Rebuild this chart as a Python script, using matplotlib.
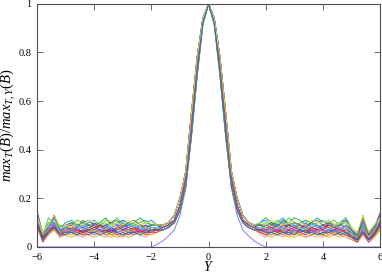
import matplotlib
matplotlib.use("Agg")
import matplotlib.pyplot as plt
import numpy as np

plt.rcParams["font.family"] = "Liberation Serif"
plt.rcParams["mathtext.fontset"] = "custom"
plt.rcParams["mathtext.it"] = "Liberation Serif:italic"
plt.rcParams["mathtext.rm"] = "Liberation Serif"

# rapidity grid, -6 .. 6 in steps of 0.2
rapidity = [-6.0, -5.8, -5.6, -5.4, -5.2, -5.0, -4.8, -4.6, -4.4, -4.2, -4.0,
            -3.8, -3.6, -3.4, -3.2, -3.0, -2.8, -2.6, -2.4, -2.2, -2.0, -1.8,
            -1.6, -1.4, -1.2, -1.0, -0.8, -0.6, -0.4, -0.2, 0.0, 0.2, 0.4,
            0.6, 0.8, 1.0, 1.2, 1.4, 1.6, 1.8, 2.0, 2.2, 2.4, 2.6, 2.8, 3.0,
            3.2, 3.4, 3.6, 3.8, 4.0, 4.2, 4.4, 4.6, 4.8, 5.0, 5.2, 5.4, 5.6,
            5.8, 6.0]

# normalised max_T(B) per run, in percent
run_01 = [12, 4, 7, 9, 6, 7, 8, 6, 7, 9, 8, 7, 6, 8, 9, 7, 6, 7, 8, 9, 7, 8,
          8, 9, 11, 17, 28, 50, 74, 93, 100, 93, 74, 50, 28, 17, 11, 9, 8,
          8, 7, 9, 8, 6, 7, 8, 9, 7, 6, 7, 8, 9, 8, 6, 7, 5, 3, 8, 4, 6, 11]
run_02 = [9, 3, 6, 8, 5, 5, 6, 5, 6, 7, 5, 6, 7, 5, 6, 5, 6, 5, 7, 6, 6, 7,
          7, 8, 10, 15, 25, 46, 71, 92, 100, 92, 71, 46, 25, 15, 10, 8, 7,
          7, 6, 5, 6, 7, 5, 6, 5, 6, 7, 6, 5, 6, 5, 6, 5, 4, 2, 6, 3, 5, 8]
run_03 = [15, 5, 8, 12, 7, 8, 10, 9, 8, 10, 11, 9, 8, 10, 9, 11, 10, 8, 9, 10, 11, 9,
          9, 10, 13, 20, 31, 55, 78, 94, 100, 94, 78, 55, 31, 20, 13, 10, 9,
          10, 11, 9, 10, 12, 9, 8, 10, 11, 9, 10, 11, 9, 8, 10, 11, 7, 5, 10, 6, 8, 13]
run_04 = [10, 3, 6, 10, 6, 6, 7, 8, 6, 5, 7, 8, 7, 6, 7, 8, 7, 6, 6, 8, 7, 7,
          8, 9, 11, 17, 28, 50, 74, 93, 100, 93, 74, 50, 28, 17, 11, 9, 8,
          7, 8, 7, 6, 8, 7, 6, 7, 8, 7, 6, 7, 6, 7, 8, 6, 5, 3, 7, 3, 5, 10]
run_05 = [13, 5, 8, 8, 7, 9, 7, 8, 10, 8, 7, 9, 10, 8, 7, 8, 9, 10, 8, 7, 9, 9,
          9, 10, 13, 20, 31, 55, 78, 94, 100, 94, 78, 55, 31, 20, 13, 10, 9,
          9, 8, 10, 9, 8, 10, 9, 7, 8, 10, 9, 8, 7, 9, 10, 8, 6, 4, 9, 5, 7, 12]
run_06 = [8, 2, 5, 7, 4, 5, 4, 5, 6, 5, 4, 5, 6, 5, 4, 5, 4, 5, 6, 5, 5, 6,
          7, 8, 10, 15, 25, 46, 71, 92, 100, 92, 71, 46, 25, 15, 10, 8, 7,
          6, 5, 4, 5, 6, 5, 4, 5, 4, 5, 6, 5, 4, 5, 4, 5, 3, 2, 5, 2, 4, 7]
run_07 = [11, 4, 9, 11, 8, 7, 9, 10, 9, 7, 8, 10, 9, 11, 8, 9, 10, 9, 11, 8, 8, 8,
          8, 9, 11, 17, 28, 50, 74, 93, 100, 93, 74, 50, 28, 17, 11, 9, 8,
          8, 9, 11, 10, 8, 9, 10, 8, 9, 11, 10, 9, 8, 10, 9, 8, 6, 4, 8, 5, 7, 9]
run_08 = [14, 6, 7, 13, 7, 6, 8, 7, 6, 8, 9, 6, 7, 8, 6, 7, 8, 7, 6, 7, 6, 8,
          9, 10, 13, 20, 31, 55, 78, 94, 100, 94, 78, 55, 31, 20, 13, 10, 9,
          7, 6, 8, 7, 9, 8, 7, 6, 7, 8, 7, 9, 8, 6, 7, 9, 7, 5, 11, 6, 8, 14]
run_09 = [10, 4, 6, 9, 5, 6, 5, 7, 8, 6, 5, 6, 8, 7, 5, 6, 7, 5, 6, 7, 6, 7,
          7, 8, 10, 15, 25, 46, 71, 92, 100, 92, 71, 46, 25, 15, 10, 8, 7,
          6, 7, 6, 5, 7, 6, 8, 6, 5, 6, 8, 7, 5, 6, 7, 6, 4, 3, 7, 3, 6, 9]
run_10 = [12, 5, 10, 10, 8, 10, 11, 9, 10, 11, 9, 10, 12, 9, 10, 11, 9, 10, 12, 10, 9, 9,
          8, 9, 11, 17, 28, 50, 74, 93, 100, 93, 74, 50, 28, 17, 11, 9, 8,
          10, 12, 10, 9, 11, 10, 12, 11, 9, 10, 12, 10, 11, 9, 10, 12, 8, 6, 9, 6, 9, 12]
run_11 = [9, 3, 7, 7, 5, 7, 6, 6, 5, 7, 6, 7, 5, 6, 8, 6, 5, 8, 7, 5, 7, 7,
          7, 8, 10, 15, 25, 46, 71, 92, 100, 92, 71, 46, 25, 15, 10, 8, 7,
          6, 5, 7, 6, 5, 7, 5, 6, 7, 5, 6, 5, 7, 6, 5, 6, 4, 2, 6, 4, 5, 9]
run_12 = [13, 4, 8, 10, 7, 8, 7, 9, 8, 7, 10, 8, 9, 7, 8, 10, 8, 9, 7, 9, 8, 8,
          9, 10, 13, 20, 31, 55, 78, 94, 100, 94, 78, 55, 31, 20, 13, 10, 9,
          9, 8, 7, 9, 10, 8, 9, 7, 10, 8, 9, 7, 10, 9, 8, 7, 6, 4, 8, 4, 7, 11]
run_13 = [11, 3, 5, 8, 4, 6, 7, 5, 4, 6, 7, 5, 4, 6, 5, 4, 6, 7, 5, 4, 6, 6,
          8, 9, 11, 17, 28, 50, 74, 93, 100, 93, 74, 50, 28, 17, 11, 9, 8,
          5, 4, 6, 5, 4, 6, 7, 5, 4, 5, 6, 4, 5, 7, 5, 4, 3, 2, 5, 2, 4, 8]
run_14 = [10, 5, 12, 9, 9, 8, 9, 11, 10, 9, 8, 9, 11, 10, 12, 9, 8, 9, 10, 11, 9, 9,
          9, 10, 13, 20, 31, 55, 78, 94, 100, 94, 78, 55, 31, 20, 13, 10, 9,
          9, 10, 9, 11, 9, 12, 10, 9, 11, 10, 8, 9, 10, 11, 9, 10, 7, 5, 12, 5, 8, 11]
run_15 = [12, 4, 7, 9, 6, 7, 6, 7, 9, 8, 6, 7, 8, 7, 6, 7, 9, 8, 7, 6, 8, 8,
          7, 8, 10, 15, 25, 46, 71, 92, 100, 92, 71, 46, 25, 15, 10, 8, 7,
          8, 7, 6, 7, 8, 6, 7, 9, 8, 7, 6, 8, 7, 6, 8, 7, 5, 3, 7, 4, 6, 10]
run_16 = [9, 4, 6, 8, 6, 8, 9, 7, 6, 8, 7, 9, 8, 6, 7, 9, 8, 6, 9, 8, 7, 7,
          8, 9, 11, 17, 28, 50, 74, 93, 100, 93, 74, 50, 28, 17, 11, 9, 8,
          7, 9, 8, 7, 9, 8, 6, 8, 9, 7, 8, 9, 8, 7, 9, 8, 5, 4, 9, 5, 7, 10]
run_18 = [11, 5, 8, 10, 7, 8, 6, 8, 9, 7, 8, 6, 9, 8, 7, 8, 6, 8, 9, 7, 8, 8,
          8, 9, 11, 17, 28, 50, 74, 93, 100, 93, 74, 50, 28, 17, 11, 9, 8,
          8, 7, 8, 10, 7, 8, 9, 7, 8, 6, 9, 8, 7, 8, 6, 9, 6, 3, 9, 4, 6, 12]
run_19 = [8, 3, 6, 7, 5, 6, 5, 6, 5, 6, 7, 6, 5, 4, 6, 5, 6, 7, 5, 6, 5, 6,
          7, 8, 10, 15, 25, 46, 71, 92, 100, 92, 71, 46, 25, 15, 10, 8, 7,
          6, 6, 5, 6, 5, 4, 6, 5, 6, 5, 4, 6, 5, 6, 5, 6, 4, 2, 5, 3, 4, 7]
run_20 = [14, 4, 9, 13, 8, 9, 10, 8, 11, 9, 10, 8, 9, 10, 11, 8, 10, 11, 9, 8, 9, 9,
          9, 10, 13, 20, 31, 55, 78, 94, 100, 94, 78, 55, 31, 20, 13, 10, 9,
          9, 9, 10, 8, 11, 9, 10, 9, 8, 10, 11, 9, 10, 8, 9, 11, 7, 4, 13, 5, 8, 13]
run_21 = [10, 4, 7, 8, 6, 7, 8, 7, 6, 7, 8, 9, 7, 6, 8, 7, 7, 8, 6, 7, 7, 7,
          8, 9, 11, 17, 28, 50, 74, 93, 100, 93, 74, 50, 28, 17, 11, 9, 8,
          7, 7, 8, 6, 7, 9, 8, 7, 6, 8, 7, 7, 9, 8, 7, 6, 5, 3, 8, 3, 6, 10]
run_22 = [12, 5, 7, 11, 6, 7, 7, 9, 7, 8, 6, 8, 7, 9, 8, 6, 7, 9, 8, 8, 7, 8,
          7, 8, 10, 15, 25, 46, 71, 92, 100, 92, 71, 46, 25, 15, 10, 8, 7,
          8, 8, 7, 8, 7, 8, 6, 8, 7, 9, 8, 6, 7, 9, 8, 7, 5, 4, 8, 4, 7, 11]
run_23 = [9, 2, 6, 9, 5, 5, 7, 6, 5, 5, 6, 7, 6, 7, 5, 6, 5, 6, 7, 6, 6, 6,
          8, 9, 11, 17, 28, 50, 74, 93, 100, 93, 74, 50, 28, 17, 11, 9, 8,
          6, 5, 6, 7, 6, 5, 7, 6, 5, 7, 5, 6, 7, 5, 6, 5, 4, 2, 6, 2, 5, 9]
run_24 = [13, 6, 9, 13, 8, 9, 8, 10, 9, 11, 10, 11, 10, 9, 10, 9, 11, 10, 9, 10, 10, 9,
          9, 10, 13, 20, 31, 55, 78, 94, 100, 94, 78, 55, 31, 20, 13, 10, 9,
          10, 9, 11, 10, 9, 10, 11, 10, 9, 11, 10, 10, 11, 9, 10, 10, 8, 6, 13, 6, 9, 12]
run_25 = [10, 3, 6, 8, 5, 6, 6, 5, 7, 6, 6, 5, 6, 7, 6, 5, 6, 6, 5, 6, 7, 7,
          7, 8, 10, 15, 25, 46, 71, 92, 100, 92, 71, 46, 25, 15, 10, 8, 7,
          7, 6, 6, 5, 6, 6, 5, 7, 6, 6, 5, 6, 6, 7, 5, 6, 4, 3, 6, 3, 5, 9]
# the one run without a plateau
run_17 = [0, 0, 0, 0, 0, 0, 0, 0, 0, 0, 0, 0, 0, 0, 0, 0, 0, 0, 0, 0, 0, 1,
          2.5, 4.5, 7, 13, 24, 45, 70, 91, 100, 91, 70, 45, 24, 13, 7, 4.5, 2.5,
          1, 0, 0, 0, 0, 0, 0, 0, 0, 0, 0, 0, 0, 0, 0, 0, 0, 0, 0, 0, 0, 0]

runs = [run_01, run_02, run_03, run_04, run_05, run_06, run_07, run_08,
        run_09, run_10, run_11, run_12, run_13, run_14, run_15, run_16,
        run_18, run_19, run_20, run_21, run_22, run_23, run_24, run_25]

colors = ["#ff0000", "#00c000", "#0080ff", "#c000ff", "#00d0d0", "#e0a000",
          "#e0e040", "#9400d3", "#ff60c0", "#009e73", "#a0522d", "#2040ff",
          "#ff8080", "#40c040", "#8080ff", "#c04060", "#50b0e0", "#ffa500",
          "#606060", "#e51e10", "#7fd0a0", "#b040b0", "#f0e442", "#0072b2"]

fig = plt.figure(figsize=(3.82, 2.75), dpi=100)
ax = fig.add_axes([0.097, 0.102, 0.898, 0.884])

ax.plot(rapidity, np.array(run_17) / 100, color="#8080ff", lw=0.7)
for run, c in zip(runs, colors):
    ax.plot(rapidity, np.array(run) / 100, color=c, lw=0.7, alpha=0.85)

ax.set_xlim(-6, 6)
ax.set_ylim(0, 1)
ax.set_xticks(np.arange(-6, 7, 2))
ax.set_yticks([0, 0.2, 0.4, 0.6, 0.8, 1])
ax.set_yticklabels(["0", "0.2", "0.4", "0.6", "0.8", "1"])
ax.tick_params(direction="in", length=4, width=0.6, top=True, right=True,
               labelsize=7.5, colors="#505050", labelcolor="black", pad=4)
for s in ax.spines.values():
    s.set_color("#505050")
    s.set_linewidth(0.8)

ax.set_xlabel("$Y$", fontsize=10, labelpad=-1)
ax.set_ylabel("$max_T(B)/max_{T,Y}(B)$", fontsize=10.5, labelpad=1)

fig.savefig("out.png", dpi=100)
